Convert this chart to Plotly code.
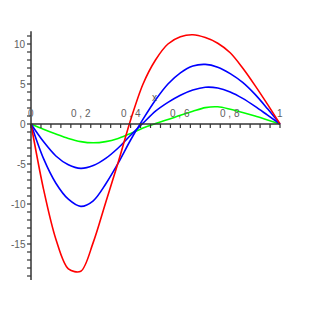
import plotly.graph_objects as go

# ---- data ----
x_vals = [0, 0.05, 0.1, 0.15, 0.2, 0.25, 0.3, 0.35, 0.4, 0.45, 0.5,
          0.55, 0.6, 0.65, 0.7, 0.75, 0.8, 0.85, 0.9, 0.95, 1.0]
red_y = [0, -8.1, -14.4, -18.1, -18.4, -14.8, -9.8, -4.8, 0.5, 5.0, 8.0,
         10.0, 10.9, 11.15, 10.8, 10.1, 8.9, 7.0, 4.8, 2.45, 0]
blue_hi_y = [0, -4.3, -7.4, -9.4, -10.3, -9.6, -7.5, -4.9, -2.0, 0.6, 3.0,
             5.0, 6.4, 7.25, 7.45, 7.1, 6.3, 5.2, 3.7, 1.9, 0]
blue_lo_y = [0, -2.2, -4.0, -5.1, -5.55, -5.2, -4.3, -3.0, -1.4, 0.1, 1.6,
             2.7, 3.6, 4.25, 4.6, 4.5, 4.0, 3.2, 2.2, 1.1, 0]
green_y = [0, -0.65, -1.25, -1.8, -2.2, -2.35, -2.2, -1.8, -1.2, -0.5, 0.05,
           0.55, 1.1, 1.6, 2.05, 2.15, 1.85, 1.45, 1.0, 0.5, 0]

x_tick_vals = [0, 0.2, 0.4, 0.6, 0.8, 1]
x_tick_text = ["0", "0 , 2", "0 , 4", "0 , 6", "0 , 8", "1"]
y_tick_vals = [10, 5, 0, -5, -10, -15]
y_tick_text = ["10", "5", "0", "-5", "-10", "-15"]
x_minor_step = 0.04
y_minor_step = 1
y_axis_min, y_axis_max = -19.5, 11.6

fig = go.Figure()
for ys, col in [(green_y, "#00ff00"), (blue_lo_y, "#0000ff"),
                (blue_hi_y, "#0000ff"), (red_y, "#ff0000")]:
    fig.add_trace(go.Scatter(x=x_vals, y=ys, mode="lines",
                             line=dict(color=col, width=1.6, shape="spline", smoothing=0.9),
                             hoverinfo="skip", showlegend=False))

axis_col = "#333333"
shapes = []
shapes.append(dict(type="line", xref="x", yref="y", x0=0, x1=1, y0=0, y1=0,
                   line=dict(color=axis_col, width=1.5)))
shapes.append(dict(type="line", xref="x", yref="y", x0=0, x1=0,
                   y0=y_axis_min, y1=y_axis_max, line=dict(color=axis_col, width=1.5)))
n = int(round(1 / x_minor_step))
for i in range(n + 1):
    xv = i * x_minor_step
    shapes.append(dict(type="line", xref="x", yref="y", x0=xv, x1=xv,
                       y0=0, y1=-0.5, line=dict(color=axis_col, width=1.2)))
for yv in range(-19, 12, y_minor_step):
    shapes.append(dict(type="line", xref="x", yref="y", x0=-0.016, x1=0,
                       y0=yv, y1=yv, line=dict(color=axis_col, width=1.2)))

annotations = []
font = dict(family="Liberation Sans", size=10, color="#606060")
for xv, t in zip(x_tick_vals, x_tick_text):
    annotations.append(dict(x=xv, y=1.35, xref="x", yref="y", text=t,
                            showarrow=False, font=font, xanchor="center",
                            yanchor="middle"))
for yv, t in zip(y_tick_vals, y_tick_text):
    annotations.append(dict(x=-0.018, y=yv, xref="x", yref="y", text=t,
                            showarrow=False, font=font, xanchor="right",
                            yanchor="middle", borderpad=0))
annotations.append(dict(x=0.497, y=3.3, xref="x", yref="y", text="x",
                        showarrow=False, font=dict(family="Liberation Sans", size=10, color="#555555"),
                        xanchor="center", yanchor="middle"))

# page body has an 8px margin: x=0 -> 23px, y=0 -> 116px inside the figure
fig.update_layout(
    width=311, height=311,
    margin=dict(l=0, r=0, t=0, b=0),
    paper_bgcolor="white", plot_bgcolor="white",
    xaxis=dict(range=[-23 / 249, 288 / 249], visible=False),
    yaxis=dict(range=[-195 / 8, 116 / 8], visible=False),
    shapes=shapes, annotations=annotations,
)
fig.write_html("out.html")
